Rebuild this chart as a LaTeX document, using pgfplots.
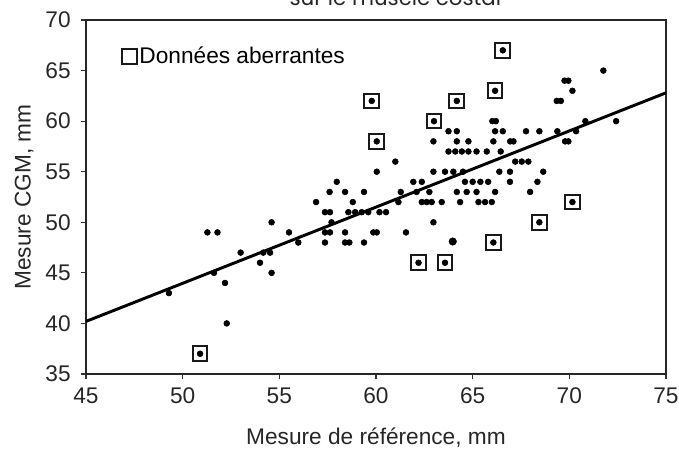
\documentclass[border=0pt]{standalone}
\usepackage{pgfplots}
\pgfplotsset{compat=1.18}
\usepackage{pgfplotstable}
\usepackage{fontspec}
\setmainfont{Liberation Sans}
\newfontfamily\titlefont{Poppins}
\usetikzlibrary{calc}

% mesures ordinaires
\pgfplotstableread{
x y
49.29 43
52.28 40
52.19 44
51.62 45
54.6 45
54.0 46
53.0 47
54.17 47
54.52 47
55.98 48
57.36 48
58.4 48
58.62 48
59.38 48
51.28 49
51.8 49
55.5 49
57.36 49
57.62 49
58.4 49
59.86 49
60.04 49
61.55 49
54.6 50
57.7 50
62.97 50
57.36 51
57.62 51
58.57 51
58.92 51
59.26 51
59.6 51
60.18 51
60.52 51
56.9 52
58.8 52
61.16 52
62.37 52
62.62 52
62.88 52
63.4 52
64.35 52
65.3 52
65.64 52
65.99 52
57.6 53
58.4 53
59.38 53
61.28 53
62.1 53
62.76 53
64.18 53
64.69 53
65.2 53
66.16 53
67.97 53
57.97 54
61.93 54
62.37 54
64.6 54
65.0 54
65.4 54
65.8 54
66.93 54
68.35 54
60.04 55
62.97 55
63.57 55
64.0 55
64.5 55
66.38 55
66.93 55
68.65 55
61.0 56
67.2 56
67.54 56
67.88 56
63.75 57
64.1 57
64.44 57
64.78 57
65.2 57
65.73 57
66.45 57
62.97 58
64.18 58
64.78 58
66.07 58
66.94 58
67.11 58
69.78 58
69.95 58
63.75 59
64.18 59
66.16 59
66.56 59
67.76 59
68.45 59
69.38 59
70.35 59
66.02 60
66.2 60
70.83 60
72.42 60
69.35 62
69.56 62
70.16 63
69.75 64
69.95 64
71.76 65
}\mesures

% donnees aberrantes
\pgfplotstableread{
x y
50.9 37
62.2 46
63.57 46
66.07 48
68.45 50
70.16 52
60.04 58
63.0 60
59.78 62
64.18 62
66.16 63
66.56 67
}\aberrantes

\begin{document}
\begin{tikzpicture}
\begin{axis}[
  name=ax,
  at={(0,0)}, anchor=south west,
  width=435pt, height=265.5pt, scale only axis,
  xmin=45, xmax=75, ymin=35, ymax=70,
  xtick={45,50,...,75}, ytick={35,40,...,70},
  xtick pos=bottom, ytick pos=left,
  tick align=outside, major tick length=4pt,
  axis line style={line width=1.4pt, black!85},
  tick style={line width=0.9pt, black!80},
  /pgf/number format/assume math mode=true,
  ticklabel style={font=\fontsize{17}{19}\selectfont, text=black!85},
  xticklabel style={yshift=-3pt},
  yticklabel style={xshift=-4pt},
  label style={font=\fontsize{17}{19}\selectfont, text=black!85},
  xlabel={Mesure de référence, mm},
  ylabel={Mesure CGM, mm},
  xlabel style={yshift=-11pt},
  ylabel style={yshift=2pt},
  legend style={draw=none, fill=none, at={(0.055,0.94)}, anchor=north west,
    font=\fontsize{17}{19}\selectfont},
  legend cell align=left,
]
\addplot[line width=2.2pt, black, forget plot] coordinates {(45,40.2) (75,62.8)};
\addplot[only marks, mark=*, mark size=2.2pt, black, forget plot] table {\mesures};
\addplot[only marks, mark=*, mark size=2.2pt, black, forget plot] table {\aberrantes};
\addplot[only marks, mark=*, mark size=2.8pt, black, forget plot] coordinates {(63.97,48.1)};
\addplot[only marks, mark=square, mark size=5.5pt, line width=1.5pt, black!90] table {\aberrantes};
\addlegendentry{Données aberrantes}
\end{axis}
\node[anchor=base, font=\titlefont\fontsize{16}{18}\selectfont, text=black!85]
  at ($(ax.south west)+(232pt,276.5pt)$) {sur le muscle costal};
\pgfresetboundingbox
\path[use as bounding box] ($(ax.south west)+(-64.5pt,-62.25pt)$) rectangle ($(ax.south west)+(444.75pt,280.5pt)$);
\end{tikzpicture}
\end{document}
